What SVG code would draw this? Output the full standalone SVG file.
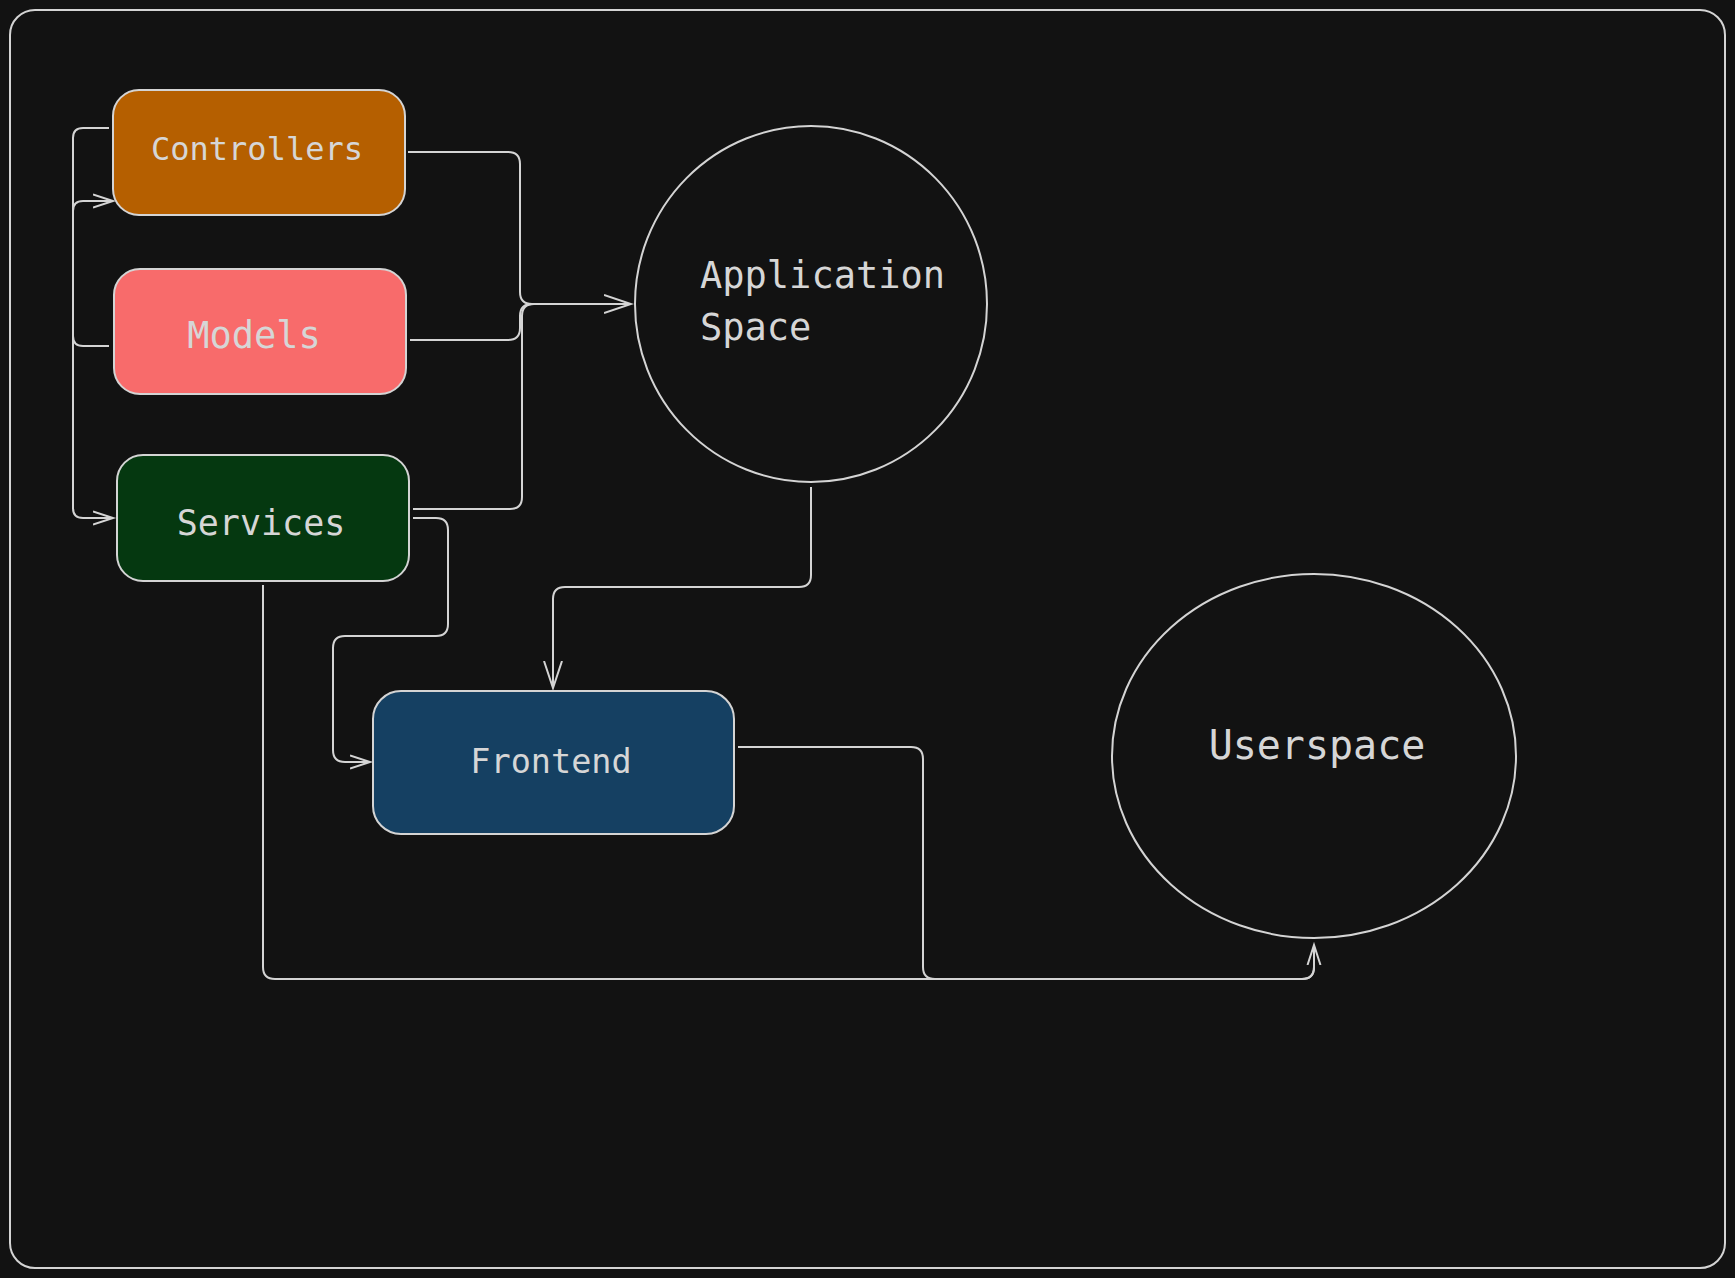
<svg xmlns="http://www.w3.org/2000/svg" width="1735" height="1278" viewBox="0 0 1735 1278">
<style>
.frame{fill:#121212;stroke:#d4d4d4;stroke-width:2}
.node{stroke:#d4d4d4;stroke-width:2}
.shape{fill:#121212;stroke:#d4d4d4;stroke-width:2}
.lbl{font-family:"DejaVu Sans Mono","Liberation Mono",monospace;fill:#d6d6d6}
.mid{text-anchor:middle}
.conn path{fill:none;stroke:#d4d4d4;stroke-width:2}
</style>
<defs>
<marker id="arrL" markerUnits="userSpaceOnUse" markerWidth="30" markerHeight="22" refX="27" refY="10" orient="auto">
<path d="M0,1 L27,10 L0,19" fill="none" stroke="#d4d4d4" stroke-width="2"/>
</marker>
<marker id="arrS" markerUnits="userSpaceOnUse" markerWidth="24" markerHeight="18" refX="20" refY="8" orient="auto">
<path d="M0,1.5 L20,8 L0,14.5" fill="none" stroke="#d4d4d4" stroke-width="2"/>
</marker>
</defs>
<rect width="1735" height="1278" fill="#121212"/>
<rect class="frame" x="10" y="10" width="1715" height="1258" rx="25"/>

<g id="connectors" class="conn">
<path d="M408 152 H508 Q520 152 520 164 V292 Q520 304 532 304 H631" marker-end="url(#arrL)"/>
<path d="M410 340 H508 Q520 340 520 328 V316 Q520 304 532 304 H631"/>
<path d="M413 509 H510 Q522 509 522 497 V316 Q522 304 534 304 H631"/>
<path d="M109 128 H83 Q73 128 73 138 V508 Q73 518 83 518 H113" marker-end="url(#arrS)"/>
<path d="M109 346 H83 Q73 346 73 336 V211 Q73 201 83 201 H113" marker-end="url(#arrS)"/>
<path d="M413 518 H436 Q448 518 448 530 V624 Q448 636 436 636 H345 Q333 636 333 648 V750 Q333 762 345 762 H370" marker-end="url(#arrS)"/>
<path d="M811 487 V575 Q811 587 799 587 H565 Q553 587 553 599 V688" marker-end="url(#arrL)"/>
<path d="M738 747 H911 Q923 747 923 759 V967 Q923 979 935 979 H1302 Q1314 979 1314 967 V945" marker-end="url(#arrS)"/>
<path d="M263 585 V967 Q263 979 275 979 H1302 Q1314 979 1314 967 V945"/>
</g>

<g id="controllers">
<rect class="node" x="113" y="90" width="292" height="125" rx="26" fill="#b55f00"/>
<text class="lbl mid" x="257" y="160" font-size="32">Controllers</text>
</g>
<g id="models">
<rect class="node" x="114" y="269" width="292" height="125" rx="26" fill="#f86b6b"/>
<text class="lbl mid" x="254" y="348" font-size="37">Models</text>
</g>
<g id="services">
<rect class="node" x="117" y="455" width="292" height="126" rx="26" fill="#053810"/>
<text class="lbl mid" x="261" y="535" font-size="35">Services</text>
</g>
<g id="frontend">
<rect class="node" x="373" y="691" width="361" height="143" rx="28" fill="#154062"/>
<text class="lbl mid" x="551" y="773" font-size="33.5">Frontend</text>
</g>
<g id="application-space">
<ellipse class="shape" cx="811" cy="304" rx="176" ry="178"/>
<text class="lbl" x="700" y="288" font-size="37">Application</text>
<text class="lbl" x="700" y="340" font-size="37">Space</text>
</g>
<g id="userspace">
<ellipse class="shape" cx="1314" cy="756" rx="202" ry="182"/>
<text class="lbl mid" x="1317" y="759" font-size="40">Userspace</text>
</g>
</svg>
